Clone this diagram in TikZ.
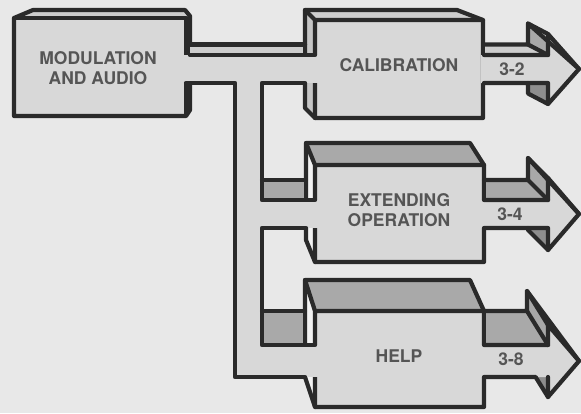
\documentclass[tikz,border=0pt]{standalone}
\usepackage{fontspec}
\setmainfont{TeX Gyre Heros}
\definecolor{bg}{HTML}{E8E8E8}
\definecolor{face}{HTML}{D8D8D8}
\definecolor{lface}{HTML}{CDCDCD}
\definecolor{tdark}{HTML}{A9A9A9}
\definecolor{swhite}{HTML}{F2F2F2}
\definecolor{scal}{HTML}{C6C6C6}
\definecolor{barb}{HTML}{A8A8A8}
\definecolor{barbd}{HTML}{8E8E8E}
\definecolor{olc}{HTML}{2A2A2A}
\definecolor{txt}{HTML}{555555}
\begin{document}
\begin{tikzpicture}[x=1pt,y=-1pt,line join=round,line cap=round,
 ol/.style={draw=olc,line width=4.2pt},
 lbl/.style={text=txt,font=\fontsize{17.5}{20}\selectfont\bfseries,align=center,inner sep=0pt}]
\useasboundingbox[fill=bg] (0,0) rectangle (581,413);

% ---------- Modulation box
\fill[lface] (14,18) -- (33,10) -- (185,10) -- (190,17) -- cycle;
\fill[face] (14,18) rectangle (184,116);
\fill[olc] (184,17) -- (190,16) -- (190,110) -- (186,116) -- (184,116) -- cycle;
\draw[ol] (14,116) -- (14,18) -- (33,10) -- (185,10) -- (190,16) -- (190,110) -- (186,116) -- cycle;
\draw[ol] (14,18) -- (186,18);

% ---------- Calibration box
\fill[lface] (305,10) -- (457,10) -- (483,20) -- (315,20) -- cycle;
\fill[scal] (305,10) -- (315,20) -- (315,118) -- (305,108) -- cycle;
\fill[face] (315,20) rectangle (483,118);
\draw[ol] (305,10) -- (457,10) -- (483,20) -- (483,118) -- (315,118) -- (305,108) -- cycle;
\draw[ol] (305,10) -- (315,20) -- (483,20) (315,20) -- (315,118);

% ---------- Extending box
\fill[tdark] (306,143) -- (470,143) -- (484,165) -- (315,165) -- cycle;
\fill[swhite] (306,143) -- (315,165) -- (315,262) -- (306,240) -- cycle;
\fill[face] (315,165) rectangle (484,262);
\draw[ol] (306,143) -- (470,143) -- (484,165) -- (484,262) -- (315,262) -- (306,240) -- cycle;
\draw[ol] (306,143) -- (315,165) -- (484,165) (315,165) -- (315,262);

% ---------- Help box
\fill[tdark] (305,280) -- (470,280) -- (484,311) -- (315,311) -- cycle;
\fill[swhite] (305,280) -- (315,311) -- (315,407) -- (305,377) -- cycle;
\fill[face] (315,311) rectangle (484,407);
\draw[ol] (305,280) -- (470,280) -- (484,311) -- (484,407) -- (315,407) -- (305,377) -- cycle;
\draw[ol] (305,280) -- (315,311) -- (484,311) (315,311) -- (315,407);

% ---------- pipe top faces
\fill[lface] (190,44.5) rectangle (303,55);
\fill[tdark] (262,180) rectangle (304,200);
\fill[tdark] (262,311) rectangle (303,345);

% ---------- pipe front faces
\fill[face] (184,55) rectangle (317.5,83);
\fill[face] (235,55) rectangle (262,377);
\fill[face] (235,200) rectangle (317.5,228);
\fill[face] (235,345) rectangle (317.5,377);

% ---------- pipe outlines
\draw[ol] (190,44.5) -- (305,44.5);
\draw[ol] (190,55) -- (315,55);
\draw[ol] (186,83) -- (235,83) -- (235,377) -- (305,377);
\draw[ol] (305,83) -- (262,83) -- (262,200) -- (315,200);
\draw[ol] (262,180) -- (306,180);
\draw[ol] (306,228) -- (262,228) -- (262,345) -- (315,345);
\draw[ol] (262,311) -- (305,311);

% ---------- arrow 3-2
\fill[lface] (486,44.5) -- (528,44.5) -- (548,55) -- (486,55) -- cycle;
\fill[barb] (528,23.5) -- (548,34) -- (548,55) -- (528,44.5) -- cycle;
\fill[face] (528,23.5) -- (579,69) -- (548,34) -- cycle;
\fill[barbd] (528,83) -- (548,83) -- (548,104) -- (528,93.5) -- cycle;
\fill[face] (481,55) -- (548,55) -- (548,34) -- (579,69) -- (548,104) -- (548,83) -- (481,83) -- cycle;
\draw[ol] (484,44.5) -- (528,44.5) -- (528,23.5) -- (579,69) -- (548,104) -- (528,93.5) -- (528,83) -- (484,83);
\draw[ol] (484,55) -- (548,55) -- (548,34) -- (579,69);
\draw[ol] (528,44.5) -- (548,55) (528,23.5) -- (548,34) (548,83) -- (548,104) (528,83) -- (548,83);

% ---------- arrow 3-4
\fill[tdark] (486,180) -- (528,180) -- (548,200) -- (486,200) -- cycle;
\fill[barb] (528,158) -- (548,178) -- (548,200) -- (528,180) -- cycle;
\fill[face] (528,158) -- (579,214) -- (548,178) -- cycle;
\fill[barbd] (528,228) -- (548,228) -- (548,250) -- (528,230) -- cycle;
\fill[face] (481,200) -- (548,200) -- (548,178) -- (579,214) -- (548,250) -- (548,228) -- (481,228) -- cycle;
\draw[ol] (484,180) -- (528,180) -- (528,158) -- (579,214) -- (548,250) -- (528,230) -- (528,228) -- (484,228);
\draw[ol] (484,200) -- (548,200) -- (548,178) -- (579,214);
\draw[ol] (528,180) -- (548,200) (528,158) -- (548,178) (548,228) -- (548,250) (528,228) -- (548,228);

% ---------- arrow 3-8
\fill[tdark] (486,311) -- (527,311) -- (548,345) -- (486,345) -- cycle;
\fill[barb] (527,291) -- (548,325) -- (548,345) -- (527,311) -- cycle;
\fill[face] (527,291) -- (579,361) -- (548,325) -- cycle;
\fill[barbd] (535.6,377) -- (548,377) -- (548,397) -- cycle;
\fill[face] (481,345) -- (548,345) -- (548,325) -- (579,361) -- (548,397) -- (548,377) -- (481,377) -- cycle;
\draw[ol] (484,311) -- (527,311) -- (527,291) -- (579,361) -- (548,397) -- (535.6,377) -- (484,377);
\draw[ol] (484,345) -- (548,345) -- (548,325) -- (579,361);
\draw[ol] (527,311) -- (548,345) (527,291) -- (548,325) (548,377) -- (548,397);

% ---------- labels
\node[lbl] (mod) at (98,68) {MODULATION\\AND AUDIO};
\node[lbl] (cal) at (399,65.5) {CALIBRATION};
\node[lbl] (ext) at (399,210) {EXTENDING\\OPERATION};
\node[lbl] (hlp) at (399,356) {HELP};
\node[lbl] (n32) at (512,69) {3-2};
\node[lbl] (n34) at (510,214.5) {3-4};
\node[lbl] (n38) at (511,359.5) {3-8};
\end{tikzpicture}
\end{document}
